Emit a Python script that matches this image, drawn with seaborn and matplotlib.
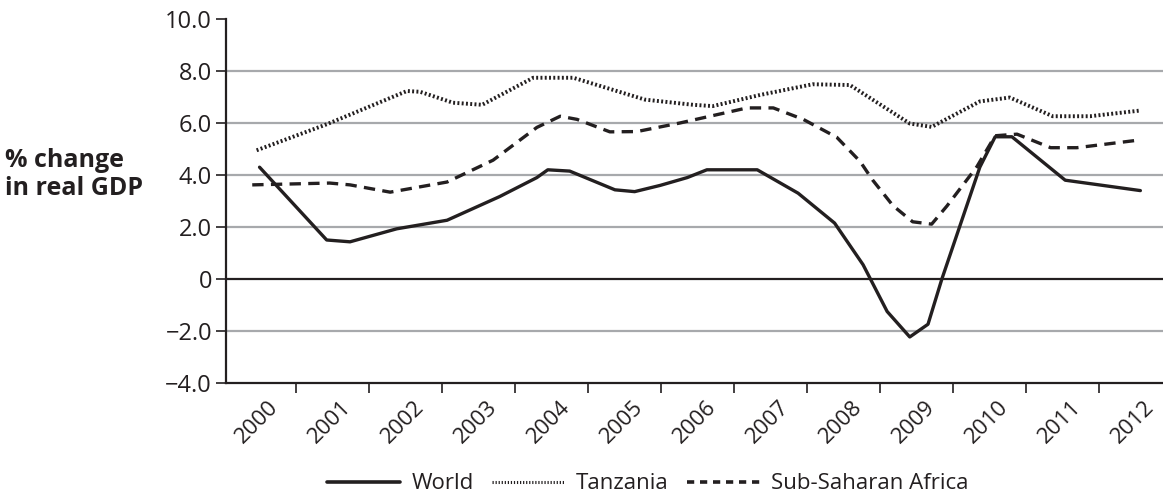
import pandas as pd
import matplotlib
matplotlib.use("Agg")
import matplotlib.pyplot as plt
import matplotlib.transforms as mtrans
from matplotlib.lines import Line2D
import seaborn as sns

# values (x in fractional years)
world_x = [2000.0, 2000.92, 2001.24, 2001.88, 2002.57, 2003.29, 2003.80, 2003.95, 2004.25,
           2004.87, 2005.14, 2005.49, 2005.86, 2006.13, 2006.82, 2007.38, 2007.88, 2008.27,
           2008.60, 2008.91, 2009.16, 2009.35, 2009.87, 2010.08, 2010.31, 2011.04, 2012.07]
world_y = [4.3, 1.5, 1.43, 1.93, 2.26, 3.17, 3.9, 4.2, 4.15,
           3.43, 3.36, 3.6, 3.9, 4.2, 4.2, 3.3, 2.15, 0.55,
           -1.25, -2.23, -1.74, 0.0, 4.3, 5.47, 5.47, 3.8, 3.4]

tanz_x = [1999.96, 2000.92, 2002.02, 2002.20, 2002.65, 2003.05, 2003.75, 2004.30,
          2005.28, 2005.94, 2006.21, 2006.86, 2007.58, 2008.09, 2008.91, 2009.21,
          2009.87, 2010.28, 2010.87, 2011.38, 2012.07]
tanz_y = [4.95, 5.95, 7.23, 7.2, 6.78, 6.7, 7.74, 7.74,
          6.9, 6.7, 6.65, 7.08, 7.49, 7.46, 5.98, 5.85,
          6.83, 6.98, 6.26, 6.26, 6.48]

ssa_x = [1999.90, 2000.96, 2001.24, 2001.79, 2002.57, 2003.20, 2003.80, 2004.12, 2004.35,
         2004.80, 2005.17, 2005.76, 2006.68, 2007.04, 2007.45, 2007.91, 2008.23, 2008.40,
         2008.68, 2008.95, 2009.21, 2009.42, 2009.83, 2010.08, 2010.38, 2010.84, 2011.20, 2012.07]
ssa_y = [3.62, 3.69, 3.62, 3.34, 3.73, 4.57, 5.83, 6.26, 6.14,
         5.66, 5.67, 6.0, 6.58, 6.58, 6.14, 5.45, 4.52, 3.81,
         2.82, 2.2, 2.11, 2.81, 4.32, 5.51, 5.57, 5.05, 5.05, 5.35]

years = list(range(2000, 2013))
y_ticks = [-4, -2, 0, 2, 4, 6, 8, 10]
y_labels = ['\u22124.0', '\u22122.0', '0', '2.0', '4.0', '6.0', '8.0', '10.0']

ink = '#231F20'
grid_grey = '#A7A9AC'

sns.set_style("white")
plt.rcParams['font.family'] = ['Open Sans', 'DejaVu Sans']

fig = plt.figure(figsize=(11.63, 5.04), dpi=100)
ax = fig.add_axes([0.1943, 0.2401, 0.8057, 0.7222])

# grid lines (0 is black)
for v in [-2, 2, 4, 6, 8]:
    ax.axhline(v, color=grid_grey, lw=1.6, zorder=1)
ax.axhline(0, color=ink, lw=1.6, zorder=1)

sns.lineplot(x=world_x, y=world_y, ax=ax, color=ink, lw=2.4, zorder=3)
sns.lineplot(x=tanz_x, y=tanz_y, ax=ax, color=ink, lw=2.8, zorder=3,
             linestyle=(0, (0.5, 0.6)))
sns.lineplot(x=ssa_x, y=ssa_y, ax=ax, color=ink, lw=2.4, zorder=3,
             linestyle=(0, (3.4, 2.2)))

ax.set_xlim(1999.54, 2012.38)
ax.set_ylim(-4, 10)
sns.despine(ax=ax, top=True, right=True)
for s in ['left', 'bottom']:
    ax.spines[s].set_color(ink)
    ax.spines[s].set_linewidth(1.6)

# y axis
ax.set_yticks(y_ticks)
ax.set_yticklabels(y_labels, fontsize=17, color=ink)
ax.tick_params(axis='y', direction='out', length=7, width=1.2, color=ink, pad=3, left=True)

# x axis: labels at year centres, ticks on category boundaries
ax.set_xticks(years)
ax.set_xticklabels([str(y) for y in years], fontsize=16, color=ink,
                   rotation=45, ha='right', rotation_mode='anchor')
ax.tick_params(axis='x', which='major', length=0, pad=10)
ax.set_xticks([y + 0.5 for y in years[:-1]], minor=True)
ax.tick_params(axis='x', which='minor', direction='out', length=7, width=1.2,
               color=ink, bottom=True)
offset = mtrans.ScaledTranslation(8 / 100, 0, fig.dpi_scale_trans)
for lab in ax.get_xticklabels():
    lab.set_transform(lab.get_transform() + offset)

ax.set_xlabel('')
ax.set_ylabel('')
fig.text(0.004, 0.653, '% change\nin real GDP', fontsize=18, fontweight='bold',
         color=ink, ha='left', va='center', linespacing=1.15)

handles = [
    Line2D([], [], color=ink, lw=2.6),
    Line2D([], [], color=ink, lw=2.2, linestyle=(0, (0.4, 0.6))),
    Line2D([], [], color=ink, lw=2.6, linestyle=(0, (2.0, 1.6))),
]
fig.legend(handles, ['World', 'Tanzania', 'Sub-Saharan Africa'], loc='center',
           bbox_to_anchor=(0.557, 0.04), ncol=3, frameon=False, fontsize=16,
           handlelength=3.3, handletextpad=0.5, columnspacing=0.8,
           labelcolor=ink)

fig.savefig('out.png', dpi=100)
